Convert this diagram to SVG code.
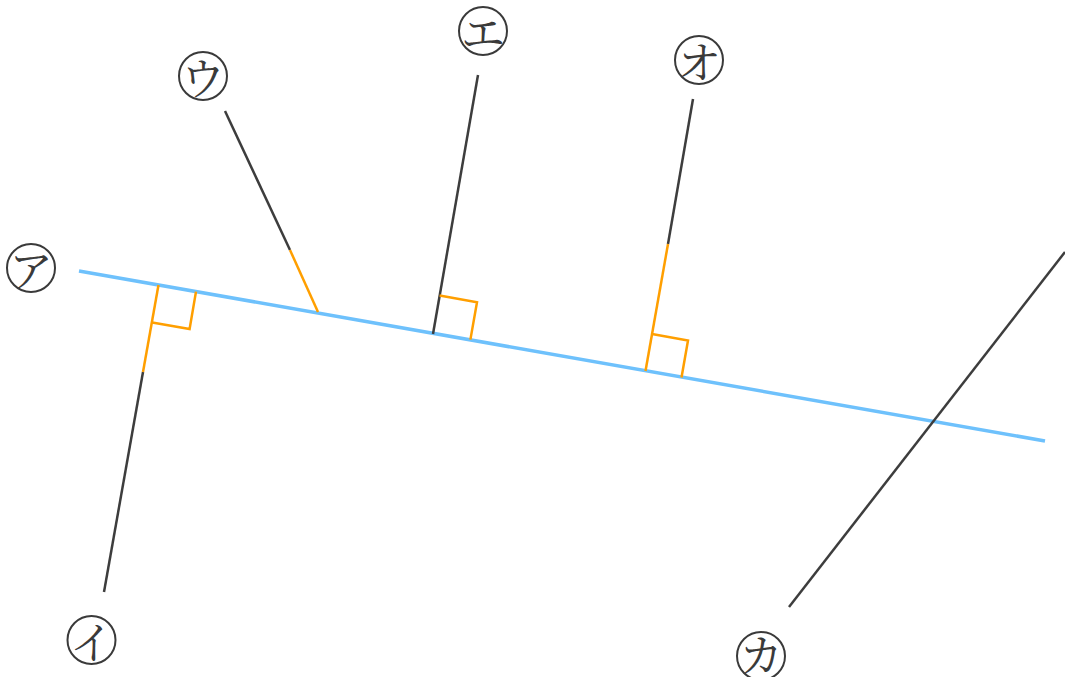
<svg xmlns="http://www.w3.org/2000/svg" width="1065" height="677" viewBox="0 0 1065 677">
<style>
.lbl circle{fill:none;stroke:#3a3a3a;stroke-width:2}
.lbl text{font-family:"Noto Serif CJK JP","Noto Sans CJK JP",serif;font-size:44px;fill:#3a3a3a;text-anchor:middle;dominant-baseline:central}
.dk{stroke:#3d3d3d;stroke-width:2.5;fill:none;stroke-linecap:butt}
.or{stroke:#ff9f00;stroke-width:2.5;fill:none}
.bl{stroke:#6ec1fc;stroke-width:3.5;fill:none}
</style>
<g id="connectors">
<line class="bl" x1="79" y1="271" x2="1045" y2="441"/>
<line class="dk" x1="104" y1="592" x2="143" y2="372"/>
<line class="or" x1="143" y1="372" x2="158.5" y2="285"/>
<polyline class="or" points="152.2,322.4 189.6,329 196,291.6"/>
<line class="dk" x1="225" y1="111" x2="290" y2="250"/>
<line class="or" x1="290" y1="250" x2="318" y2="312"/>
<line class="dk" x1="478" y1="75" x2="433" y2="334"/>
<polyline class="or" points="439.6,295.6 477,302.2 470.4,339.6"/>
<line class="dk" x1="693" y1="99" x2="668" y2="244"/>
<line class="or" x1="668" y1="244" x2="645.5" y2="371"/>
<polyline class="or" points="652,334 688,340.5 681.5,377.5"/>
<line class="dk" x1="1065" y1="252" x2="789" y2="607"/>
</g>
<g id="label-a" class="lbl"><circle cx="31" cy="268" r="24"/><text x="31" y="268">ア</text></g>
<g id="label-i" class="lbl"><circle cx="91.5" cy="640" r="24"/><text x="91.5" y="640">イ</text></g>
<g id="label-u" class="lbl"><circle cx="203" cy="76" r="24"/><text x="203" y="76">ウ</text></g>
<g id="label-e" class="lbl"><circle cx="483" cy="31" r="24"/><text x="483" y="31">エ</text></g>
<g id="label-o" class="lbl"><circle cx="699" cy="60" r="24"/><text x="699" y="60">オ</text></g>
<g id="label-ka" class="lbl"><circle cx="761" cy="656" r="24"/><text x="761" y="653">カ</text></g>
</svg>
